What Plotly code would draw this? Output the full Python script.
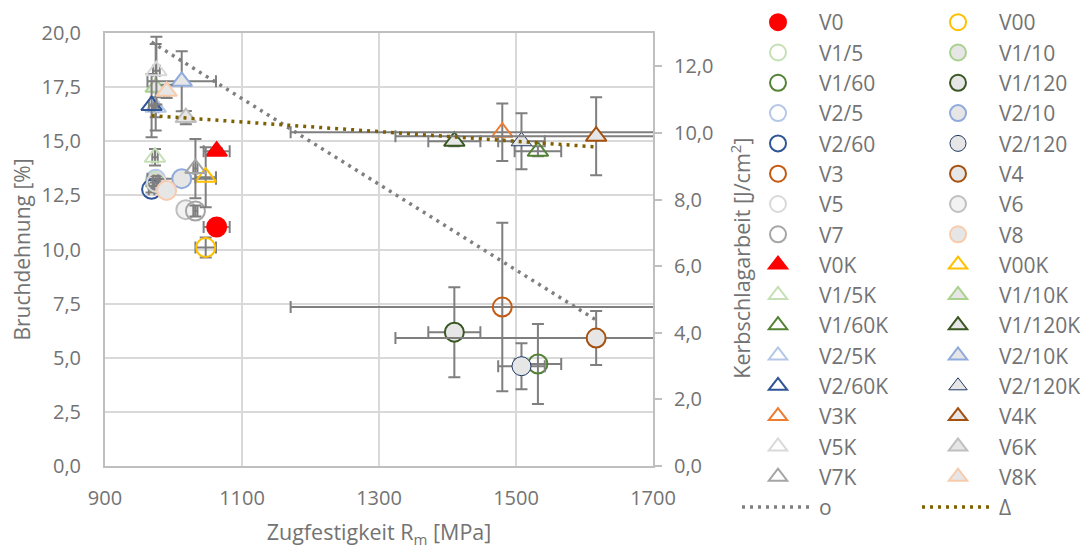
import plotly.graph_objects as go

# ---------------- data ----------------
variants = ["V0", "V00", "V1/5", "V1/10", "V1/60", "V1/120", "V2/5", "V2/10",
            "V2/60", "V2/120", "V3", "V4", "V5", "V6", "V7", "V8"]
# Zugfestigkeit Rm [MPa] and its scatter
rm = [1063, 1047, 973, 974, 1532, 1410, 974, 1012, 968, 1508, 1480, 1617, 975, 1018, 1032, 990]
rm_err = [19, 15, 4, 4, 34, 38, 4, 50, 4, 34, 309, 293, 5, 4, 3, 4]
# Bruchdehnung [%] (circles, left axis)
dehnung = [11.04, 10.09, 13.15, 13.06, 4.71, 6.18, 13.24, 13.27, 12.78, 4.61, 7.34, 5.91, 13.1, 11.84, 11.78, 12.73]
dehnung_err = [0.3, 0.46, 0.15, 0.15, 1.85, 2.08, 0.15, 0.2, 0.15, 1.06, 3.89, 1.25, 0.15, 0.15, 0.25, 0.15]
# Kerbschlagarbeit [J/cm²] (triangles, right axis)
kerb = [9.45, 8.67, 9.27, 11.37, 9.45, 9.75, 10.77, 11.55, 10.82, 9.75, 10.02, 9.90, 11.87, 10.46, 8.93, 11.25]
kerb_err = [0.1, 0.9, 0.25, 1.3, 0.15, 0.15, 0.3, 0.9, 0.95, 0.84, 0.86, 1.17, 1.02, 0.2, 0.89, 0.2]
# trend lines (end points)
trend_o_x = [968, 1617]
trend_o_y = [19.58, 6.74]
trend_d_x = [968, 1617]
trend_d_y = [10.52, 9.58]

x_ticks = [900, 1100, 1300, 1500, 1700]

# ---------------- styles ----------------
FILL = "#E7E6E6"
NONE = "rgba(0,0,0,0)"
circle_style = {
    "V0": ("#FF0000", "#FF0000", 2), "V00": ("#FFC000", NONE, 2),
    "V1/5": ("#C5E0B4", NONE, 2), "V1/10": ("#A9D18E", FILL, 2),
    "V1/60": ("#548235", NONE, 2), "V1/120": ("#385723", FILL, 2),
    "V2/5": ("#B4C7E7", NONE, 2), "V2/10": ("#8FAADC", FILL, 2),
    "V2/60": ("#2F5597", NONE, 2), "V2/120": ("#203864", FILL, 1),
    "V3": ("#C55A11", NONE, 2), "V4": ("#A5500F", FILL, 2),
    "V5": ("#D9D9D9", NONE, 2), "V6": ("#BFBFBF", "#F2F2F2", 2),
    "V7": ("#A5A5A5", NONE, 2), "V8": ("#F8CBAD", FILL, 2),
}
tri_style = dict(circle_style)
tri_style["V3"] = ("#ED7D31", NONE, 2)
tri_style["V4"] = ("#A5500F", FILL, 2)
tri_style["V6"] = ("#BFBFBF", FILL, 2)

ERR = "#7F7F7F"
TXT = "#737373"
FONT = "Open Sans"

W, H = 1082, 543   # page body keeps an 8px margin
ML, MT, MB = 97, 24.5, 85
PLOT_W = W - ML - 436.6
PLOT_H = H - MT - MB

fig = go.Figure()

def err(arr):
    return dict(type="data", array=arr, visible=True, color=ERR, thickness=2, width=6)

for i, v in enumerate(variants):
    lc, fc, lw = circle_style[v]
    fig.add_trace(go.Scatter(
        x=[rm[i]], y=[dehnung[i]], name=v, mode="markers",
        marker=dict(symbol="circle", size=19, color=fc, line=dict(color=lc, width=lw)),
        error_x=err([rm_err[i]]), error_y=err([dehnung_err[i]]),
        yaxis="y",
    ))

for i, v in enumerate(variants):
    lc, fc, lw = tri_style[v]
    fig.add_trace(go.Scatter(
        x=[rm[i]], y=[kerb[i]], name=v + "K", mode="markers",
        marker=dict(symbol="triangle-up", size=18, color=fc, line=dict(color=lc, width=lw)),
        error_x=err([rm_err[i]]), error_y=err([kerb_err[i]]),
        yaxis="y2",
    ))

fig.add_trace(go.Scatter(
    x=trend_o_x, y=trend_o_y, name="o", mode="lines",
    line=dict(color="#7F7F7F", width=3.5, dash="3px,5px"), yaxis="y",
))
fig.add_trace(go.Scatter(
    x=trend_d_x, y=trend_d_y, name="Δ", mode="lines",
    line=dict(color="#7F6000", width=3.5, dash="3px,5px"), yaxis="y2",
))

legend_top_px = -20.5  # in figure pixels
fig.update_layout(
    width=W, height=H,
    margin=dict(l=ML, r=436.6, t=MT, b=MB, autoexpand=False),
    paper_bgcolor="white", plot_bgcolor="white",
    separators=",.",
    font=dict(family=FONT, color=TXT, size=20),
    showlegend=True,
    legend=dict(
        orientation="h", xref="container", yref="paper",
        x=715 / W, y=(H - MB - legend_top_px) / PLOT_H, xanchor="left", yanchor="top",
        entrywidth=93, entrywidthmode="pixels", itemwidth=72,
        borderwidth=14, bordercolor="rgba(0,0,0,0)",
        maxheight=620, traceorder="normal",
        font=dict(family=FONT, size=21, color=TXT),
        bgcolor="rgba(0,0,0,0)",
    ),
    xaxis=dict(
        range=[900, 1700], tickvals=x_ticks, ticktext=[str(t) for t in x_ticks],
        showgrid=True, gridcolor="#D9D9D9", gridwidth=1.5,
        showline=True, linecolor="#BFBFBF", linewidth=2, mirror=True,
        zeroline=False, ticks="", ticklabelstandoff=13,
        tickfont=dict(size=20, color=TXT),
        title=dict(text="Zugfestigkeit R<sub>m</sub> [MPa]", font=dict(size=21.5, color=TXT)),
    ),
    yaxis=dict(
        range=[0, 20], dtick=2.5, tick0=0, tickformat=".1f",
        showgrid=True, gridcolor="#D9D9D9", gridwidth=1.5,
        showline=True, linecolor="#BFBFBF", linewidth=2, mirror=True,
        zeroline=False, ticks="", ticklabelstandoff=18,
        tickfont=dict(size=20, color=TXT),
        title=dict(text="Bruchdehnung [%]", font=dict(size=21, color=TXT)),
    ),
    yaxis2=dict(
        range=[0, 13], dtick=2, tick0=0, tickformat=".1f",
        overlaying="y", side="right", showgrid=False,
        showline=True, linecolor="#BFBFBF", linewidth=2,
        zeroline=False, ticks="outside", ticklen=7, tickcolor="#BFBFBF", tickwidth=1.5,
        ticklabelstandoff=8,
        tickfont=dict(size=20, color=TXT),
    ),
    annotations=[dict(
        text="Kerbschlagarbeit [J/cm<sup>2</sup>]", textangle=-90,
        xref="paper", yref="paper", x=(733 - ML) / PLOT_W, y=0.48,
        xanchor="center", yanchor="middle", showarrow=False,
        font=dict(family=FONT, size=21.5, color=TXT),
    )],
)

fig.write_html("out.html")
